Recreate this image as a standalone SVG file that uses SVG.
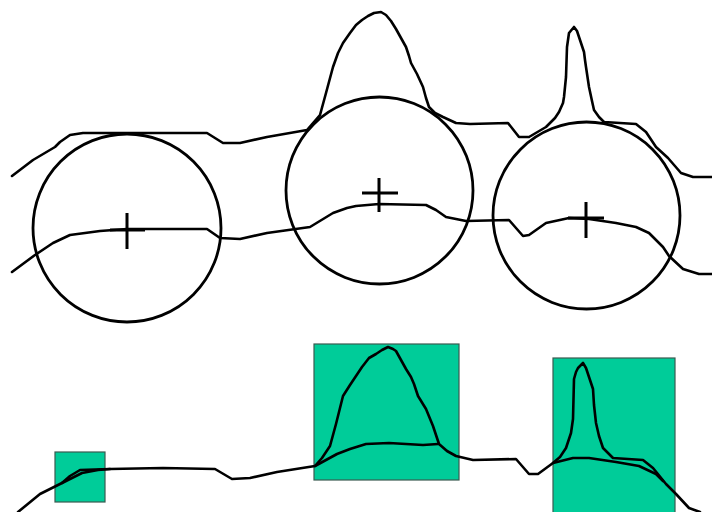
<svg xmlns="http://www.w3.org/2000/svg" width="712" height="512" viewBox="0 0 712 512">
<style>
.c{fill:none;stroke:#000;stroke-width:2.6;stroke-linejoin:round;stroke-linecap:round}
.r{fill:none;stroke:#000;stroke-width:2.8}
.x{stroke:#000;stroke-width:3}
.b{fill:#00CC99;stroke:#3a5a50;stroke-width:1.2}
</style>
<rect width="712" height="512" fill="#fff"/>
<g id="top-curves">
<polyline class="c" points="12,176 33,160 55,147 60,142 70,135 83,133 207,133 223,143 240,143 267,137 307,130 320,115 326,93 333,67 338,53 343,43 350,33 356,25 362,20 368,16 374,13 381,12 386,15 391,21 396,29 401,38 406,47 409,56 411,63 417,74 423,87 426,98 429,107 435,113 443,117 456,123 470,124 508,123 519,137 529,137 546,127 555,118 559,112 563,103 564,97 566,77 567,47 569,33 574,27 577,31 579,37 584,52 585,60 586,67 589,87 592,101 594,110 599,117 604,122 636,124 646,132 656,147 668,158 681,173 693,177 712,177"/>
<polyline class="c" points="12,272 35,255 53,243 70,235 100,231 127,229 207,229 220,238 240,239 267,233 310,227 333,213 347,208 356,206 379,204 426,205 436,210 446,217 466,221 509,220 523,236 529,235 546,223 569,218 589,219 616,223 636,227 649,233 656,240 663,247 669,256 683,269 699,274 712,274"/>
</g>
<g id="circles">
<circle class="r" cx="127" cy="228" r="94"/>
<circle class="r" cx="379.5" cy="190.5" r="93.5"/>
<circle class="r" cx="586.5" cy="215.5" r="93.5"/>
</g>
<g id="crosses">
<path class="x" d="M127,213V249M110,230H145"/>
<path class="x" d="M379,178V212M362,193H398"/>
<path class="x" d="M586,202V238M568,218H604"/>
</g>
<g id="boxes">
<rect class="b" x="55" y="452" width="50" height="50"/>
<rect class="b" x="314" y="344" width="145" height="136"/>
<rect class="b" x="553" y="358" width="122" height="160"/>
</g>
<g id="bottom-curves">
<polyline class="c" points="18,512 40,494 62,483 70,476 80,470 110,469 163,468 215,469 232,479 250,478 277,472 315,466 322,458 330,446 336,424 343,396 350,385 356,376 362,367 369,358 376,354 382,350 388,347 393,349 396,351 401,360 406,369 411,377 414,384 418,396 426,409 433,426 439,444 447,451 456,456 473,460 516,459 529,474 538,474 553,463 560,457 566,448 571,433 573,419 574,379 576,372 578,368 583,363 586,368 588,374 593,389 594,405 596,423 599,436 603,448 613,458 643,460 653,468 666,484 676,494 689,508 700,512"/>
<polyline class="c" points="62,483 72,478 82,473 98,470 110,469"/>
<polyline class="c" points="315,466 337,454 350,449 366,444 389,443 423,445 438,444"/>
<polyline class="c" points="553,463 573,458 589,458 616,462 639,466 656,474 663,481"/>
</g>
</svg>
